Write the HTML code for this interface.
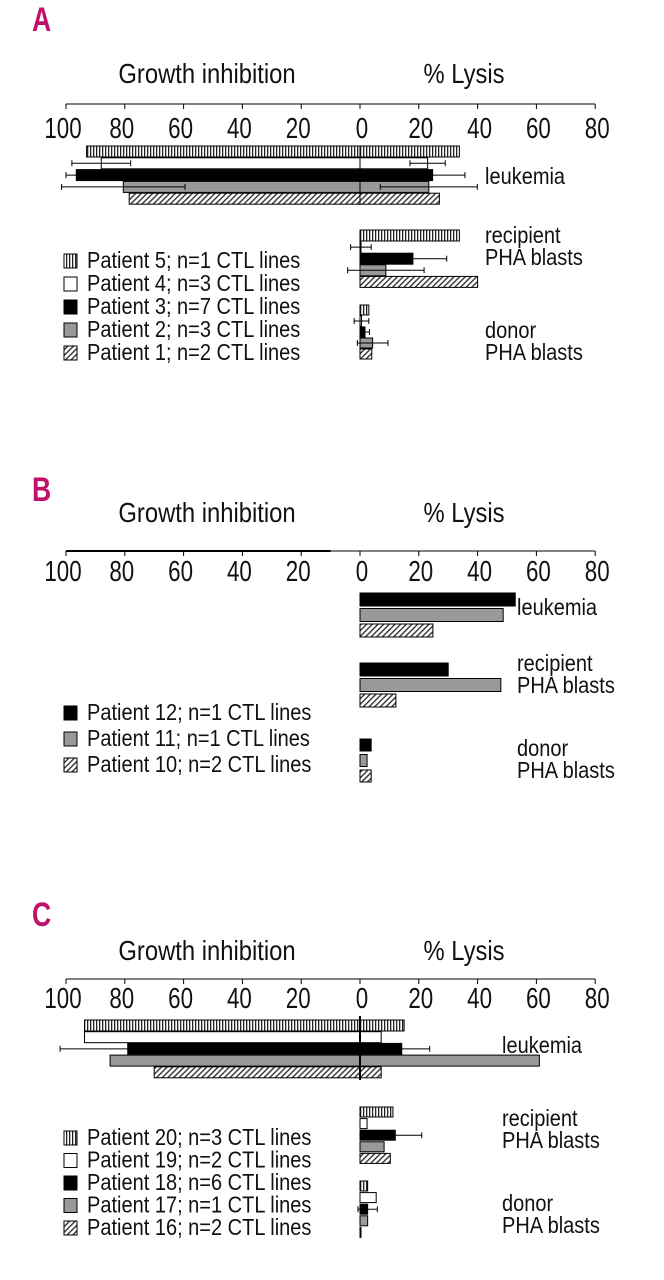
<!DOCTYPE html>
<html><head><meta charset="utf-8">
<style>
html,body{margin:0;padding:0;background:#fff;}
svg{display:block;}
text{font-family:"Liberation Sans Narrow","Liberation Sans",sans-serif;}
</style></head>
<body>
<svg id="chart" width="664" height="1280" viewBox="0 0 664 1280" xmlns="http://www.w3.org/2000/svg">
<defs>
<pattern id="vstripe" patternUnits="userSpaceOnUse" width="3" height="10"><rect width="3" height="10" fill="#fff"/><rect width="1.3" height="10" fill="#222"/></pattern>
<pattern id="hatch" patternUnits="userSpaceOnUse" width="4" height="4" patternTransform="rotate(45)"><rect width="4" height="4" fill="#fff"/><rect width="1.4" height="4" fill="#333"/></pattern>
</defs>
</svg>
<script>
// ---- Data ----
const tickLeft = [100, 80, 60, 40, 20];
const tickRight = [0, 20, 40, 60, 80];
// Panel A (patients 5,4,3,2,1)
const aPatients = ["Patient 5; n=1 CTL lines","Patient 4; n=3 CTL lines","Patient 3; n=7 CTL lines","Patient 2; n=3 CTL lines","Patient 1; n=2 CTL lines"];
const aFills = ["vstripe","white","black","gray","hatch"];
const aLeukGI = [93, 88, 96.5, 80.5, 78.5];
const aLeukLysis = [33.8, 23, 24.7, 23.4, 27];
const aLeukGIErr = [0, 10, 3.5, 21, 0];
const aLeukLysisErr = [0, 6, 11, 16.5, 0];
const aRecipLysis = [33.8, 0.3, 18, 8.8, 40];
const aRecipErr = [0, 3.5, 11.5, 13, 0];
const aDonorLysis = [3, 0.5, 1.7, 4.3, 4];
const aDonorErr = [0, 2.5, 1.5, 5.2, 0];
// Panel B (patients 12,11,10)
const bPatients = ["Patient 12; n=1 CTL lines","Patient 11; n=1 CTL lines","Patient 10; n=2 CTL lines"];
const bFills = ["black","gray","hatch"];
const bLeukLysis = [52.8, 48.7, 24.8];
const bRecipLysis = [30, 47.9, 12.2];
const bDonorLysis = [3.8, 2.4, 3.8];
// Panel C (patients 20..16)
const cPatients = ["Patient 20; n=3 CTL lines","Patient 19; n=2 CTL lines","Patient 18; n=6 CTL lines","Patient 17; n=1 CTL lines","Patient 16; n=2 CTL lines"];
const cFills = ["vstripe","white","black","gray","hatch"];
const cLeukGI = [93.7, 93.7, 79, 85, 70];
const cLeukLysis = [15, 7.2, 14.2, 61, 7.2];
const cLeukGIErr = [0, 0, 23, 0, 0];
const cLeukLysisErr = [0, 0, 9.5, 0, 0];
const cRecipLysis = [11.2, 2.4, 12, 8.2, 10.3];
const cRecipErr = [0, 0, 9, 0, 0];
const cDonorLysis = [2.6, 5.5, 2.6, 2.6, 0.3];
const cDonorErr = [0, 0, 3.3, 0, 0];

// ---- Axis ----
const X0 = 360, U = 2.94;
function xL(v){ return X0 - v*U; }
function xR(v){ return X0 + v*U; }
const NS = "http://www.w3.org/2000/svg";
const svg = document.getElementById('chart');
function mk(tag, attrs, parent){
  const e = document.createElementNS(NS, tag);
  for (const k in attrs) e.setAttribute(k, attrs[k]);
  (parent||svg).appendChild(e);
  return e;
}
function fillOf(f){
  if (f==="vstripe") return "url(#vstripe)";
  if (f==="hatch") return "url(#hatch)";
  if (f==="gray") return "#999";
  if (f==="black") return "#000";
  return "#fff";
}
function txt(x,y,s,size,anchor,name,g,sx,color,bold){
  const t = mk('text',{x:0,y:0,'font-size':size,'text-anchor':anchor||'start',transform:`translate(${x},${y}) scale(${sx||1},1)`,fill:color||'#111'},g);
  if (bold) t.setAttribute('font-weight','bold');
  t.textContent = s;
  
  
  return t;
}
function errLine(x1,x2,y,g){
  const l = mk('path',{d:`M${x1},${y}H${x2}M${x1},${y-3}V${y+3}M${x2},${y-3}V${y+3}`,stroke:'#000','stroke-width':1,fill:'none'},g);
  
  
}
function bar(gi, ly, y, h, fill, g, name){
  const x1 = xL(gi||0), x2 = xR(ly||0);
  const r = mk('rect',{x:x1,y:y,width:Math.max(x2-x1,1),height:h,fill:fillOf(fill),stroke:'#000','stroke-width':1},g);
  
  
}
function panel(cfg){
  const g = mk('g',{});
  
  
  txt(32, cfg.letterY, cfg.letter, 34, 'start', 'panel-letter', g, 0.78, '#c0106a', true);
  txt(207, cfg.titleY, 'Growth inhibition', 28, 'middle', 'growth-inhibition-title', g, 0.85);
  txt(464, cfg.titleY, '% Lysis', 28, 'middle', 'lysis-title', g, 0.85);
  const ay = cfg.axisY;
  const ax = mk('path',{d:`M${xL(100)},${ay}H${xR(80)}`,stroke:'#000','stroke-width':1},g);
   
  if (cfg.thickLeft){ const t=mk('path',{d:`M${xL(100)},${ay}H${xL(10)}`,stroke:'#000','stroke-width':2},g);   }
  tickLeft.forEach(v=>{ const t=mk('path',{d:`M${xL(v)},${ay}V${ay+5}`,stroke:'#000'},g);  
    txt(xL(v)-3, cfg.tickY, String(v), 29, 'middle', 'tick-label-left', g, 0.77); });
  tickRight.forEach(v=>{ const t=mk('path',{d:`M${xR(v)},${ay}V${ay+5}`,stroke:'#000'},g);  
    txt(xR(v)+2, cfg.tickY, String(v), 29, 'middle', 'tick-label-right', g, 0.77); });
  cfg.groups.forEach(gr=>{
    gr.vals.forEach((v,i)=>{
      const y = gr.y + i*gr.pitch;
      bar(gr.gi?gr.gi[i]:0, v, y, gr.h, cfg.fills[i], g, gr.name+'-bar-'+i);
      if (gr.giErr && gr.giErr[i]) errLine(xL(gr.gi[i]+gr.giErr[i]), xL(gr.gi[i]-gr.giErr[i]), y+gr.h/2, g);
      if (gr.err && gr.err[i]) errLine(xR(v-gr.err[i]), xR(v+gr.err[i]), y+gr.h/2, g);
    });
    gr.labels.forEach((s,j)=>txt(cfg.labelX, gr.ly + j*22, s, 23, 'start', gr.name+'-label', g, 0.87));
  });
  if (cfg.zeroLine){ const z=mk('path',{d:`M${X0},${cfg.zeroLine[0]}V${cfg.zeroLine[1]}`,stroke:'#000','stroke-width':cfg.zeroW||1},g);   }
  cfg.patients.forEach((p,i)=>{
    const y = cfg.legY + i*cfg.legPitch;
    const s = mk('rect',{x:64,y:y-14,width:13,height:14,fill:fillOf(cfg.fills[i]),stroke:'#000'},g);
     
    txt(87, y, p, 23, 'start', 'legend-entry', g, 0.87);
  });
}
panel({letter:'A', letterY:31, titleY:83, axisY:104, tickY:138, fills:aFills, patients:aPatients, labelX:485, legY:268, legPitch:23, zeroLine:[146,205],
  groups:[
    {name:'leukemia', y:146, pitch:11.8, h:11, vals:aLeukLysis, gi:aLeukGI, giErr:aLeukGIErr, err:aLeukLysisErr, labels:['leukemia'], ly:184},
    {name:'recipient', y:230, pitch:11.6, h:11, vals:aRecipLysis, err:aRecipErr, labels:['recipient','PHA blasts'], ly:243},
    {name:'donor', y:305, pitch:11, h:10, vals:aDonorLysis, err:aDonorErr, labels:['donor','PHA blasts'], ly:338}
  ]});
panel({letter:'B', letterY:501, titleY:522, axisY:551, tickY:581, fills:bFills, patients:bPatients, labelX:517, legY:720, legPitch:26, thickLeft:true,
  groups:[
    {name:'leukemia', y:593, pitch:15.5, h:13, vals:bLeukLysis, labels:['leukemia'], ly:615},
    {name:'recipient', y:663, pitch:15.5, h:13, vals:bRecipLysis, labels:['recipient','PHA blasts'], ly:671},
    {name:'donor', y:739, pitch:15.5, h:12, vals:bDonorLysis, labels:['donor','PHA blasts'], ly:756}
  ]});
panel({letter:'C', letterY:926, titleY:960, axisY:979, tickY:1008, fills:cFills, patients:cPatients, labelX:502, legY:1145, legPitch:22.5, zeroLine:[1016,1080], zeroW:2,
  groups:[
    {name:'leukemia', y:1020, pitch:11.7, h:11, vals:cLeukLysis, gi:cLeukGI, giErr:cLeukGIErr, err:cLeukLysisErr, labels:['leukemia'], ly:1053},
    {name:'recipient', y:1107, pitch:11.6, h:10, vals:cRecipLysis, err:cRecipErr, labels:['recipient','PHA blasts'], ly:1126},
    {name:'donor', y:1181, pitch:11.6, h:10, vals:cDonorLysis, err:cDonorErr, labels:['donor','PHA blasts'], ly:1211}
  ]});
</script>
</body></html>
